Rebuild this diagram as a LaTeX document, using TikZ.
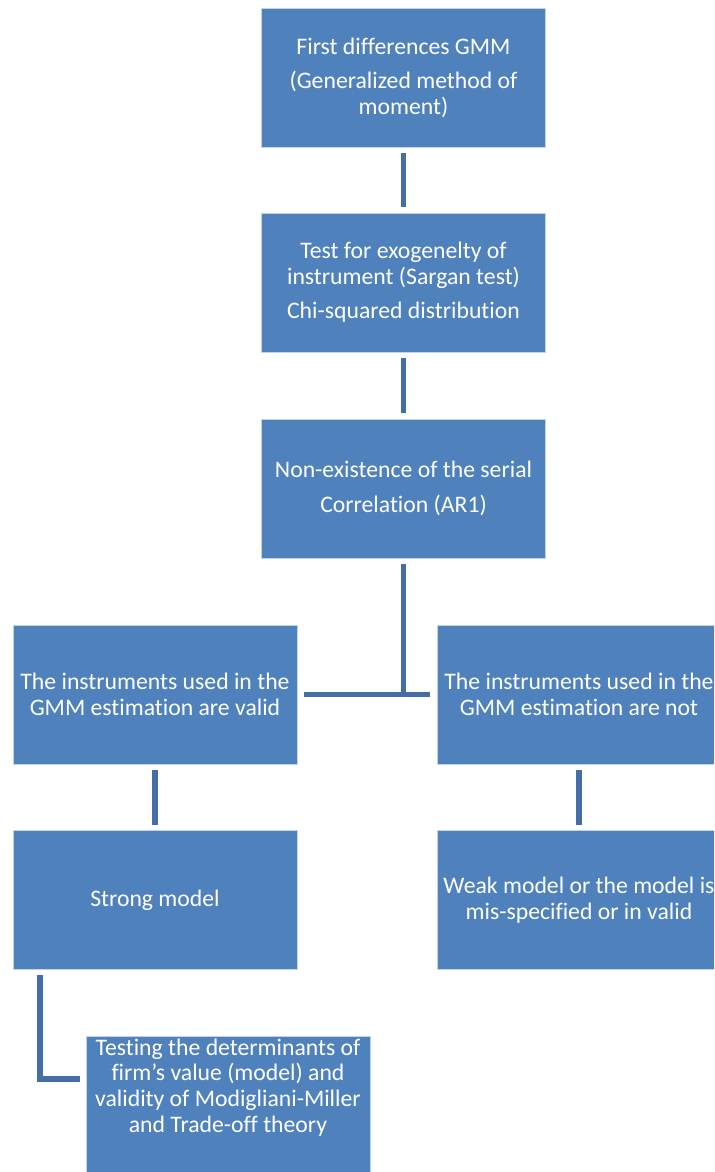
\documentclass[tikz,border=0pt]{standalone}
\usepackage{fontspec}
\setmainfont{Carlito}[Ligatures=NoCommon]
\definecolor{boxblue}{RGB}{79,129,189}
\definecolor{linkblue}{RGB}{68,111,166}
\tikzset{
  stepbox/.style={rectangle, fill=boxblue, draw=white!65!boxblue, line width=0.5pt,
    minimum width=5.68cm, minimum height=2.78cm, align=center,
    inner sep=0pt, text=white, font=\fontsize{13.5}{14.6}\selectfont},
  link/.style={draw=linkblue, line width=3.4pt, shorten <=0.11cm, shorten >=0.11cm}
}
\begin{document}
\begin{tikzpicture}[x=0.02cm,y=-0.02cm]
\useasboundingbox (0,0) rectangle (714,1172);
\clip (0,0) rectangle (714,1172);
% boxes
\node[stepbox] (gmm) at (403.5,77.5) {First differences GMM\\[5pt](Generalized method of\\moment)};
\node[stepbox] (sargan) at (403.5,282.5) {Test for exogenelty of\\instrument (Sargan test)\\[5pt]Chi-squared distribution};
\node[stepbox] (serial) at (403.5,488.5) {Non-existence of the serial\\[5pt]Correlation (AR1)};
\node[stepbox] (valid) at (155,694.5) {The instruments used in the\\GMM estimation are valid};
\node[stepbox] (notvalid) at (579,694.5) {The instruments used in the\\GMM estimation are not};
\node[stepbox] (strong) at (155,900) {Strong model};
\node[stepbox] (weak) at (579,900) {Weak model or the model is\\mis-specified or in valid};
\node[stepbox] (theory) at (228,1105.5) {\parbox[c][2.78cm][t]{5.6cm}{\centering\vspace*{1.5pt}%
  Testing the determinants of\\firm's value (model) and\\validity of Modigliani-Miller\\and Trade-off theory}};
% connectors
\draw[link] (gmm) -- (sargan);
\draw[link] (sargan) -- (serial);
\draw[link, shorten >=0pt] (serial) -- (serial |- valid);
\draw[link, shorten <=0.14cm, shorten >=0.14cm] (valid) -- (notvalid);
\draw[link] (valid) -- (strong);
\draw[link] (notvalid) -- (weak);
\draw[link, shorten >=0.12cm] ([xshift=0.54cm]strong.south west) |- ([yshift=0.54cm]theory.west);
\end{tikzpicture}
\end{document}
